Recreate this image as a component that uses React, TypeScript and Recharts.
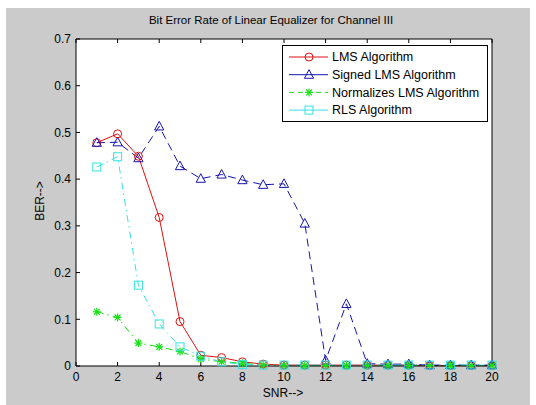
import React from 'react';
import { LineChart, Line, XAxis, YAxis, CartesianGrid } from 'recharts';

const snr = [1, 2, 3, 4, 5, 6, 7, 8, 9, 10, 11, 12, 13, 14, 15, 16, 17, 18, 19, 20];
const lmsBer = [0.478, 0.497, 0.449, 0.318, 0.095, 0.023, 0.018, 0.009, 0.004, 0.002, 0.002, 0.002, 0.002, 0.002, 0.002, 0.002, 0.001, 0.001, 0.001, 0.001];
const signedLmsBer = [0.478, 0.479, 0.445, 0.513, 0.428, 0.401, 0.41, 0.398, 0.388, 0.39, 0.305, 0.012, 0.133, 0.005, 0.004, 0.004, 0.002, 0.002, 0.002, 0.002];
const nlmsBer = [0.116, 0.104, 0.049, 0.041, 0.031, 0.015, 0.009, 0.006, 0.002, 0.001, 0.001, 0.001, 0.001, 0.001, 0.001, 0.001, 0.001, 0.001, 0.001, 0.001];
const rlsBer = [0.426, 0.448, 0.173, 0.09, 0.041, 0.021, 0.009, 0.003, 0.002, 0.002, 0.002, 0.002, 0.002, 0.002, 0.002, 0.002, 0.002, 0.002, 0.002, 0.002];

const xTicks = [0, 2, 4, 6, 8, 10, 12, 14, 16, 18, 20];
const yTicks = [0, 0.1, 0.2, 0.3, 0.4, 0.5, 0.6, 0.7];
const yTickLabels = ['0', '0.1', '0.2', '0.3', '0.4', '0.5', '0.6', '0.7'];

const seriesNames = ['LMS Algorithm', 'Signed LMS Algorithm', 'Normalizes LMS Algorithm', 'RLS Algorithm'];
const seriesKeys = ['lms', 'signed', 'nlms', 'rls'];
const seriesColors = ['#dd1111', '#1414b4', '#14e014', '#33e3e3'];
const seriesDash = ['', '8 5', '7 4 1.5 4', '7 4 1.5 4'];
const legendDash = ['', '', '5 4', ''];
const seriesMarkers = ['circle', 'triangle', 'star', 'square'];

const data = snr.map((s, i) => ({
  snr: s,
  lms: lmsBer[i],
  signed: signedLmsBer[i],
  nlms: nlmsBer[i],
  rls: rlsBer[i],
}));

const FONT = '"Liberation Sans", Arial, sans-serif';

function marker(kind: string, cx: number, cy: number, color: string, key?: string | number) {
  if (kind === 'circle') {
    return <circle key={key} cx={cx} cy={cy} r={4} fill="none" stroke={color} strokeWidth={1} />;
  }
  if (kind === 'triangle') {
    const pts = `${cx},${cy - 5} ${cx - 4.6},${cy + 3.6} ${cx + 4.6},${cy + 3.6}`;
    return <polygon key={key} points={pts} fill="none" stroke={color} strokeWidth={1} />;
  }
  if (kind === 'square') {
    return <rect key={key} x={cx - 4} y={cy - 4} width={8} height={8} fill="none" stroke={color} strokeWidth={1} />;
  }
  const r = 4;
  const d = 2.9;
  return (
    <g key={key} stroke={color} strokeWidth={1.2}>
      <line x1={cx - r} y1={cy} x2={cx + r} y2={cy} />
      <line x1={cx} y1={cy - r} x2={cx} y2={cy + r} />
      <line x1={cx - d} y1={cy - d} x2={cx + d} y2={cy + d} />
      <line x1={cx - d} y1={cy + d} x2={cx + d} y2={cy - d} />
    </g>
  );
}

const makeDot = (kind: string, color: string) => (props: any) => {
  const { cx, cy, index } = props;
  if (cx == null || cy == null) return <g key={`e${index}`} />;
  return marker(kind, cx, cy, color, `d${index}`);
};

const tickStyle = { fill: '#000', fontSize: 12, fontFamily: FONT };

export default function App() {
  return (
    <div style={{ position: 'absolute', left: 0, top: 0, width: 536, height: 405, background: '#ffffff', overflow: 'hidden' }}>
      <div style={{ position: 'absolute', left: 6, top: 8, width: 524, height: 397, background: '#cbcbcb' }} />
      <div style={{ position: 'absolute', left: 0, top: 0 }}>
        <LineChart width={536} height={405} data={data} margin={{ top: 34, right: 39, bottom: 9, left: 36 }}>
          <CartesianGrid xAxisId="bottom" yAxisId="left" fill="#ffffff" stroke="none" horizontal={false} vertical={false} />
          <XAxis
            xAxisId="bottom"
            dataKey="snr"
            type="number"
            domain={[0, 20]}
            ticks={xTicks}
            interval={0}
            orientation="bottom"
            height={30}
            tickSize={-4}
            tickMargin={10}
            axisLine={{ stroke: '#000' }}
            tickLine={{ stroke: '#000' }}
            tick={tickStyle}
          />
          <XAxis
            xAxisId="top"
            dataKey="snr"
            type="number"
            domain={[0, 20]}
            ticks={xTicks}
            interval={0}
            orientation="top"
            height={5}
            tickSize={-4}
            axisLine={{ stroke: '#000' }}
            tickLine={{ stroke: '#000' }}
            tickFormatter={() => ''}
          />
          <YAxis
            yAxisId="left"
            type="number"
            domain={[0, 0.7]}
            ticks={yTicks}
            interval={0}
            width={40}
            tickSize={-4}
            tickMargin={9}
            axisLine={{ stroke: '#000' }}
            tickLine={{ stroke: '#000' }}
            tick={tickStyle}
            tickFormatter={(v: number) => yTickLabels[yTicks.indexOf(v)] ?? String(v)}
          />
          <YAxis
            yAxisId="right"
            orientation="right"
            type="number"
            domain={[0, 0.7]}
            ticks={yTicks}
            interval={0}
            width={5}
            tickSize={-4}
            axisLine={{ stroke: '#000' }}
            tickLine={{ stroke: '#000' }}
            tickFormatter={() => ''}
          />
          {seriesKeys.map((k, i) => (
            <Line
              key={k}
              xAxisId="bottom"
              yAxisId="left"
              type="linear"
              dataKey={k}
              name={seriesNames[i]}
              stroke={seriesColors[i]}
              strokeWidth={1}
              strokeDasharray={seriesDash[i] || undefined}
              dot={makeDot(seriesMarkers[i], seriesColors[i])}
              activeDot={false}
              isAnimationActive={false}
            />
          ))}
        </LineChart>
      </div>
      <svg width={536} height={405} style={{ position: 'absolute', left: 0, top: 0, pointerEvents: 'none' }}>
        <text x={271} y={24} textAnchor="middle" fontFamily={FONT} fontSize={11.5} fill="#000">
          Bit Error Rate of Linear Equalizer for Channel III
        </text>
        <text x={283} y={397} textAnchor="middle" fontFamily={FONT} fontSize={12} fill="#000">
          SNR--&gt;
        </text>
        <text x={44} y={201} textAnchor="middle" fontFamily={FONT} fontSize={12} fill="#000" transform="rotate(-90 44 201)">
          BER--&gt;
        </text>
        <rect x={282.5} y={45.5} width={205} height={76} fill="#ffffff" stroke="#000" strokeWidth={1} />
        {seriesNames.map((n, i) => {
          const cy = 57 + i * 17.7;
          return (
            <g key={n}>
              <line x1={289} y1={cy} x2={328} y2={cy} stroke={seriesColors[i]} strokeWidth={1} strokeDasharray={legendDash[i] || undefined} />
              {marker(seriesMarkers[i], 309, cy, seriesColors[i])}
              <text x={332} y={cy + 4.3} fontFamily={FONT} fontSize={12.5} fill="#000">
                {n}
              </text>
            </g>
          );
        })}
      </svg>
    </div>
  );
}
